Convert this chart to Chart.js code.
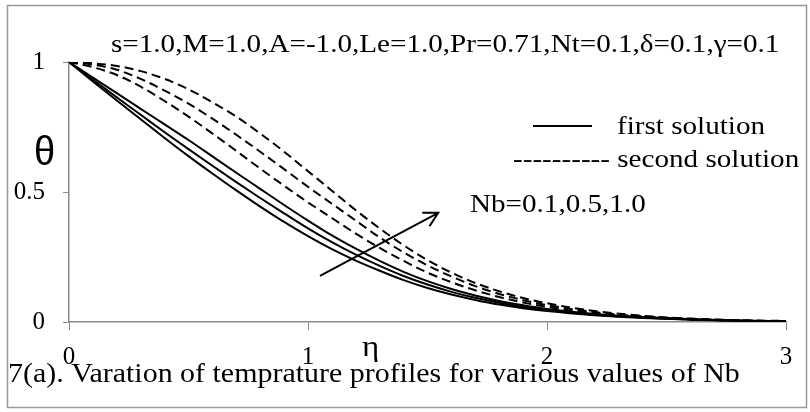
<!DOCTYPE html>
<html>
<head>
<meta charset="utf-8">
<script src="https://cdn.jsdelivr.net/npm/chart.js@4.4.1/dist/chart.umd.min.js"></script>
<style>
html, body { margin: 0; padding: 0; background: #fff; }
#wrap { width: 810px; height: 412px; }
</style>
</head>
<body>
<div id="wrap"><canvas id="chart-nb" width="810" height="412"></canvas></div>
<script>
// eta values (x axis)
const eta = [0, 0.1, 0.2, 0.3, 0.4, 0.5, 0.6, 0.7, 0.8, 0.9, 1.0, 1.1, 1.2, 1.3, 1.4, 1.5, 1.6, 1.7, 1.8, 1.9, 2.0, 2.2, 2.4, 2.6, 2.8, 3.0];

// first solution, Nb = 0.1, 0.5, 1.0
const firstNb01 = [1, 0.925, 0.852, 0.78, 0.708, 0.638, 0.571, 0.506, 0.444, 0.385, 0.33, 0.28, 0.236, 0.197, 0.161, 0.131, 0.106, 0.085, 0.067, 0.053, 0.042, 0.026, 0.015, 0.009, 0.005, 0.002];
const firstNb05 = [1, 0.932, 0.864, 0.797, 0.73, 0.665, 0.601, 0.538, 0.477, 0.418, 0.36, 0.307, 0.259, 0.216, 0.177, 0.144, 0.116, 0.093, 0.074, 0.058, 0.046, 0.028, 0.017, 0.010, 0.005, 0.002];
const firstNb10 = [1, 0.94, 0.88, 0.82, 0.76, 0.70, 0.637, 0.574, 0.512, 0.45, 0.39, 0.333, 0.282, 0.235, 0.193, 0.157, 0.127, 0.102, 0.081, 0.064, 0.05, 0.031, 0.019, 0.011, 0.006, 0.003];

// second solution, Nb = 0.1, 0.5, 1.0
const secondNb01 = [1, 0.98, 0.95, 0.905, 0.85, 0.79, 0.725, 0.658, 0.59, 0.524, 0.46, 0.40, 0.34, 0.285, 0.235, 0.19, 0.153, 0.122, 0.096, 0.075, 0.058, 0.034, 0.019, 0.010, 0.005, 0.002];
const secondNb05 = [1, 0.99, 0.97, 0.935, 0.89, 0.84, 0.782, 0.72, 0.655, 0.588, 0.52, 0.455, 0.39, 0.325, 0.268, 0.218, 0.175, 0.138, 0.108, 0.084, 0.065, 0.038, 0.021, 0.012, 0.006, 0.003];
const secondNb10 = [1, 0.995, 0.985, 0.965, 0.935, 0.895, 0.845, 0.79, 0.725, 0.655, 0.58, 0.505, 0.43, 0.36, 0.295, 0.238, 0.19, 0.15, 0.118, 0.092, 0.072, 0.042, 0.024, 0.013, 0.007, 0.004];

const xTicks = [0, 1, 2, 3];
const yTicks = [0, 0.5, 1];

const titleText = 's=1.0,M=1.0,A=-1.0,Le=1.0,Pr=0.71,Nt=0.1,\u03b4=0.1,\u03b3=0.1';
const captionText = '7(a). Varation of temprature profiles for various values of Nb';
const nbText = 'Nb=0.1,0.5,1.0';

// arrow in data coordinates
const arrowFrom = { x: 1.05, y: 0.177 };
const arrowTo = { x: 1.545, y: 0.42 };

const SERIF = '"Liberation Serif", "Times New Roman", serif';
const SANS = '"Liberation Sans", Arial, sans-serif';
const AXIS_GREY = '#8a8a8a';

function pts(ys) {
	return ys.map((v, i) => ({ x: eta[i], y: v }));
}

function solid(ys) {
	return {
		data: pts(ys),
		borderColor: '#000',
		borderWidth: 2,
		pointRadius: 0,
		fill: false,
		cubicInterpolationMode: 'monotone',
	};
}

function dashed(ys) {
	return Object.assign(solid(ys), { borderDash: [9, 5] });
}

function drawText(ctx, str, x, y, font, sx) {
	ctx.save();
	ctx.translate(x, y);
	ctx.scale(sx, 1);
	ctx.font = font;
	ctx.fillStyle = '#000';
	ctx.textBaseline = 'alphabetic';
	ctx.textAlign = 'left';
	ctx.fillText(str, 0, 0);
	ctx.restore();
}

const decorations = {
	id: 'decorations',
	afterDatasetsDraw(chart) {
		const ctx = chart.ctx;
		const xs = chart.scales.x;
		const ys = chart.scales.y;

		// arrow
		const x1 = xs.getPixelForValue(arrowFrom.x), y1 = ys.getPixelForValue(arrowFrom.y);
		const x2 = xs.getPixelForValue(arrowTo.x), y2 = ys.getPixelForValue(arrowTo.y);
		const ang = Math.atan2(y2 - y1, x2 - x1);
		ctx.save();
		ctx.strokeStyle = '#000';
		ctx.lineWidth = 2;
		ctx.beginPath();
		ctx.moveTo(x1, y1);
		ctx.lineTo(x2, y2);
		ctx.moveTo(x2 - 16 * Math.cos(ang - 0.5), y2 - 16 * Math.sin(ang - 0.5));
		ctx.lineTo(x2, y2);
		ctx.lineTo(x2 - 16 * Math.cos(ang + 0.5), y2 - 16 * Math.sin(ang + 0.5));
		ctx.stroke();

		// legend sample line
		ctx.beginPath();
		ctx.moveTo(533, 126);
		ctx.lineTo(592, 126);
		ctx.stroke();

		// outer frame
		ctx.strokeStyle = '#999';
		ctx.lineWidth = 1.5;
		ctx.strokeRect(7.5, 5.5, 799, 402);
		ctx.restore();

		drawText(ctx, titleText, 111, 52, '26px ' + SERIF, 1.12);
		drawText(ctx, 'first solution', 617, 134, '26px ' + SERIF, 1.12);
		drawText(ctx, '---------- second solution', 513, 167, '26px ' + SERIF, 1.12);
		drawText(ctx, nbText, 470, 212, '26px ' + SERIF, 1.12);
		drawText(ctx, '\u03b8', 34, 165, '40px ' + SANS, 0.95);
		drawText(ctx, '\u03b7', 362, 356, '30px ' + SERIF, 1.1);
		drawText(ctx, captionText, 8, 382, '26.5px ' + SERIF, 1.13);
	}
};

const config = {
	type: 'line',
	data: {
		datasets: [
			solid(firstNb01), solid(firstNb05), solid(firstNb10),
			dashed(secondNb01), dashed(secondNb05), dashed(secondNb10),
		],
	},
	options: {
		responsive: false,
		animation: false,
		devicePixelRatio: 1,
		layout: {
			padding: { left: 0, right: 24, top: 62, bottom: 0 }
		},
		plugins: {
			legend: { display: false },
			title: { display: false },
			tooltip: { enabled: false },
		},
		scales: {
			x: {
				type: 'linear',
				min: 0,
				max: 3,
				afterFit: (scale) => { scale.height = 90; },
				afterBuildTicks: (scale) => { scale.ticks = xTicks.map(v => ({ value: v })); },
				grid: { drawOnChartArea: false, color: AXIS_GREY, tickLength: 8 },
				border: { color: AXIS_GREY, width: 1.5 },
				ticks: {
					color: '#000',
					padding: 12,
					maxRotation: 0,
					font: { family: SERIF, size: 25 },
					callback: (v) => String(v),
				},
			},
			y: {
				type: 'linear',
				min: 0,
				max: 1,
				afterFit: (scale) => { scale.width = 69; },
				afterBuildTicks: (scale) => { scale.ticks = yTicks.map(v => ({ value: v })); },
				grid: { drawOnChartArea: false, color: AXIS_GREY, tickLength: 6 },
				border: { color: AXIS_GREY, width: 1.5 },
				ticks: {
					color: '#000',
					padding: 18,
					font: { family: SERIF, size: 25 },
					callback: (v) => String(v),
				},
			},
		},
	},
	plugins: [decorations],
};

const chartNb = new Chart(document.getElementById('chart-nb'), config);
</script>
</body>
</html>
